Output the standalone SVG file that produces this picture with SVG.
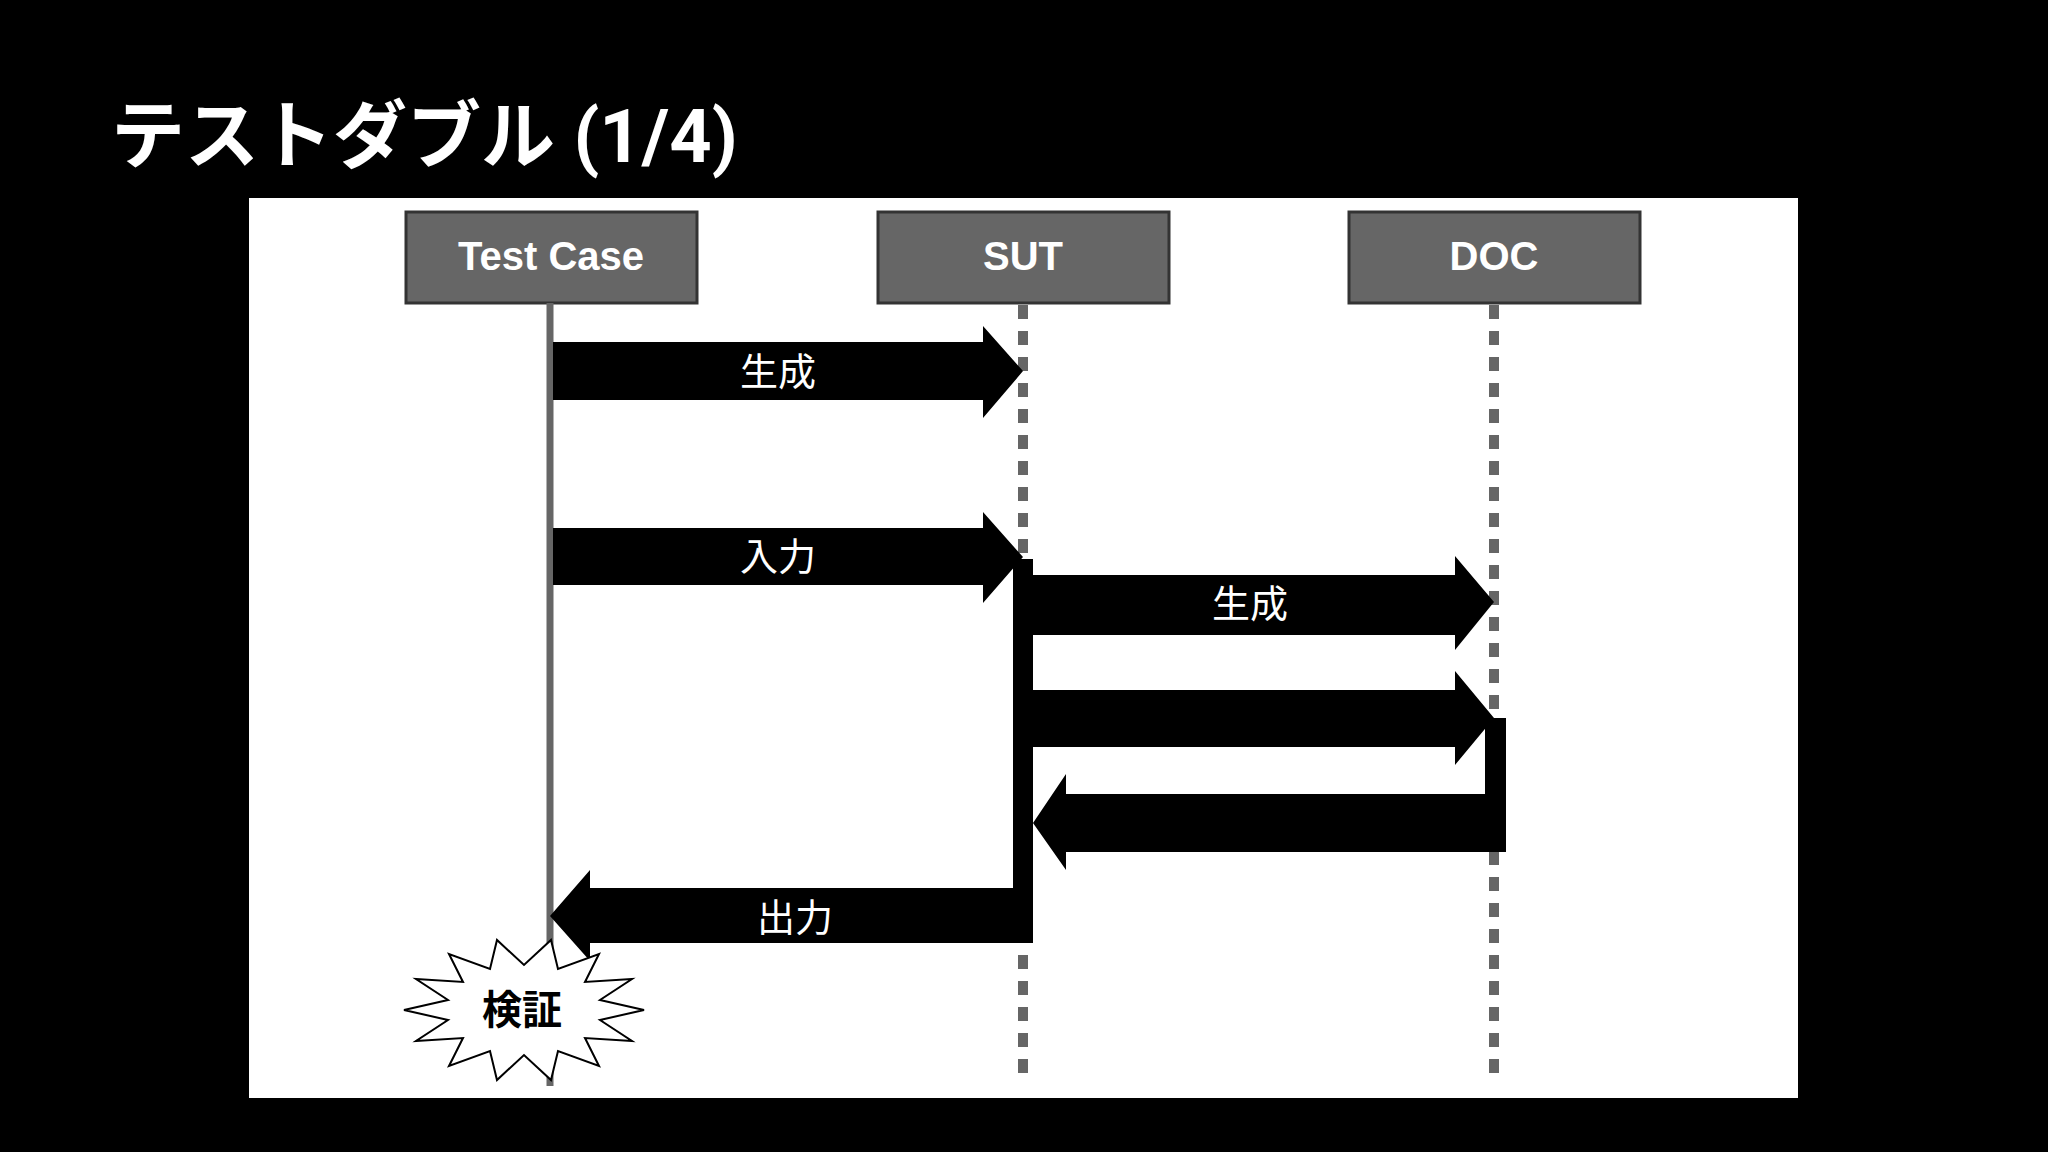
<svg xmlns="http://www.w3.org/2000/svg" width="2048" height="1152" viewBox="0 0 2048 1152">
<style>
.hdr{fill:#666;stroke:#333;stroke-width:3}
.ht{font-family:"Liberation Sans",Arial,sans-serif;font-weight:bold;font-size:40px;fill:#fff;text-anchor:middle}
.lbl{font-family:"Noto Sans CJK JP",sans-serif;font-size:38px;fill:#fff;text-anchor:middle}
.dash{stroke:#666;stroke-width:10;stroke-dasharray:14 12;fill:none}
.arr{fill:#000}
</style>
<rect width="2048" height="1152" fill="#000"/>
<text x="111" y="162" font-family="Roboto,'Noto Sans CJK JP',sans-serif" font-weight="bold" font-size="74" fill="#fff">テストダブル (1/4)</text>
<rect x="249" y="198" width="1549" height="900" fill="#fff"/>
<g id="testcase"><rect class="hdr" x="406" y="212" width="291" height="91"/><text class="ht" x="551" y="270">Test Case</text></g>
<g id="sut"><rect class="hdr" x="878" y="212" width="291" height="91"/><text class="ht" x="1023" y="270">SUT</text></g>
<g id="doc"><rect class="hdr" x="1349" y="212" width="291" height="91"/><text class="ht" x="1494" y="270">DOC</text></g>
<g id="lifelines">
<line x1="550" y1="303" x2="550" y2="1086" stroke="#666" stroke-width="7"/>
<line class="dash" x1="1023" y1="305" x2="1023" y2="1080"/>
<line class="dash" x1="1494" y1="305" x2="1494" y2="1080"/>
</g>
<g id="connectors">
<polygon class="arr" points="553,342 983,342 983,326 1023,371 983,418 983,400 553,400"/>
<text class="lbl" x="778" y="385">生成</text>
<polygon class="arr" points="553,528 983,528 983,512 1023,557 983,603 983,585 553,585"/>
<text class="lbl" x="778" y="570">入力</text>
<rect class="arr" x="1013" y="559" width="20" height="384"/>
<polygon class="arr" points="1033,575 1455,575 1455,556 1494,602 1455,650 1455,635 1033,635"/>
<text class="lbl" x="1250" y="617">生成</text>
<polygon class="arr" points="1033,690 1455,690 1455,671 1494,718 1455,765 1455,747 1033,747"/>
<rect class="arr" x="1485" y="718" width="21" height="134"/>
<polygon class="arr" points="1506,794 1066,794 1066,774 1033,823 1066,870 1066,852 1506,852"/>
<polygon class="arr" points="1033,888 590,888 590,870 550,916 590,961 590,943 1033,943"/>
<text class="lbl" x="795" y="931">出力</text>
</g>
<g id="verify">
<polygon points="644,1010 600,1020 632,1041 585,1038 599,1066 558,1051 551,1080 524,1055 497,1080 490,1051 449,1066 463,1038 416,1041 448,1020 404,1010 448,1000 416,979 463,982 449,954 490,969 497,940 524,965 551,940 558,969 599,954 585,982 632,979 600,1000" fill="#fff" stroke="#000" stroke-width="2"/>
<text x="522" y="1024" font-family="'Noto Sans CJK JP',sans-serif" font-weight="bold" font-size="40" text-anchor="middle" fill="#000">検証</text>
</g>
</svg>
